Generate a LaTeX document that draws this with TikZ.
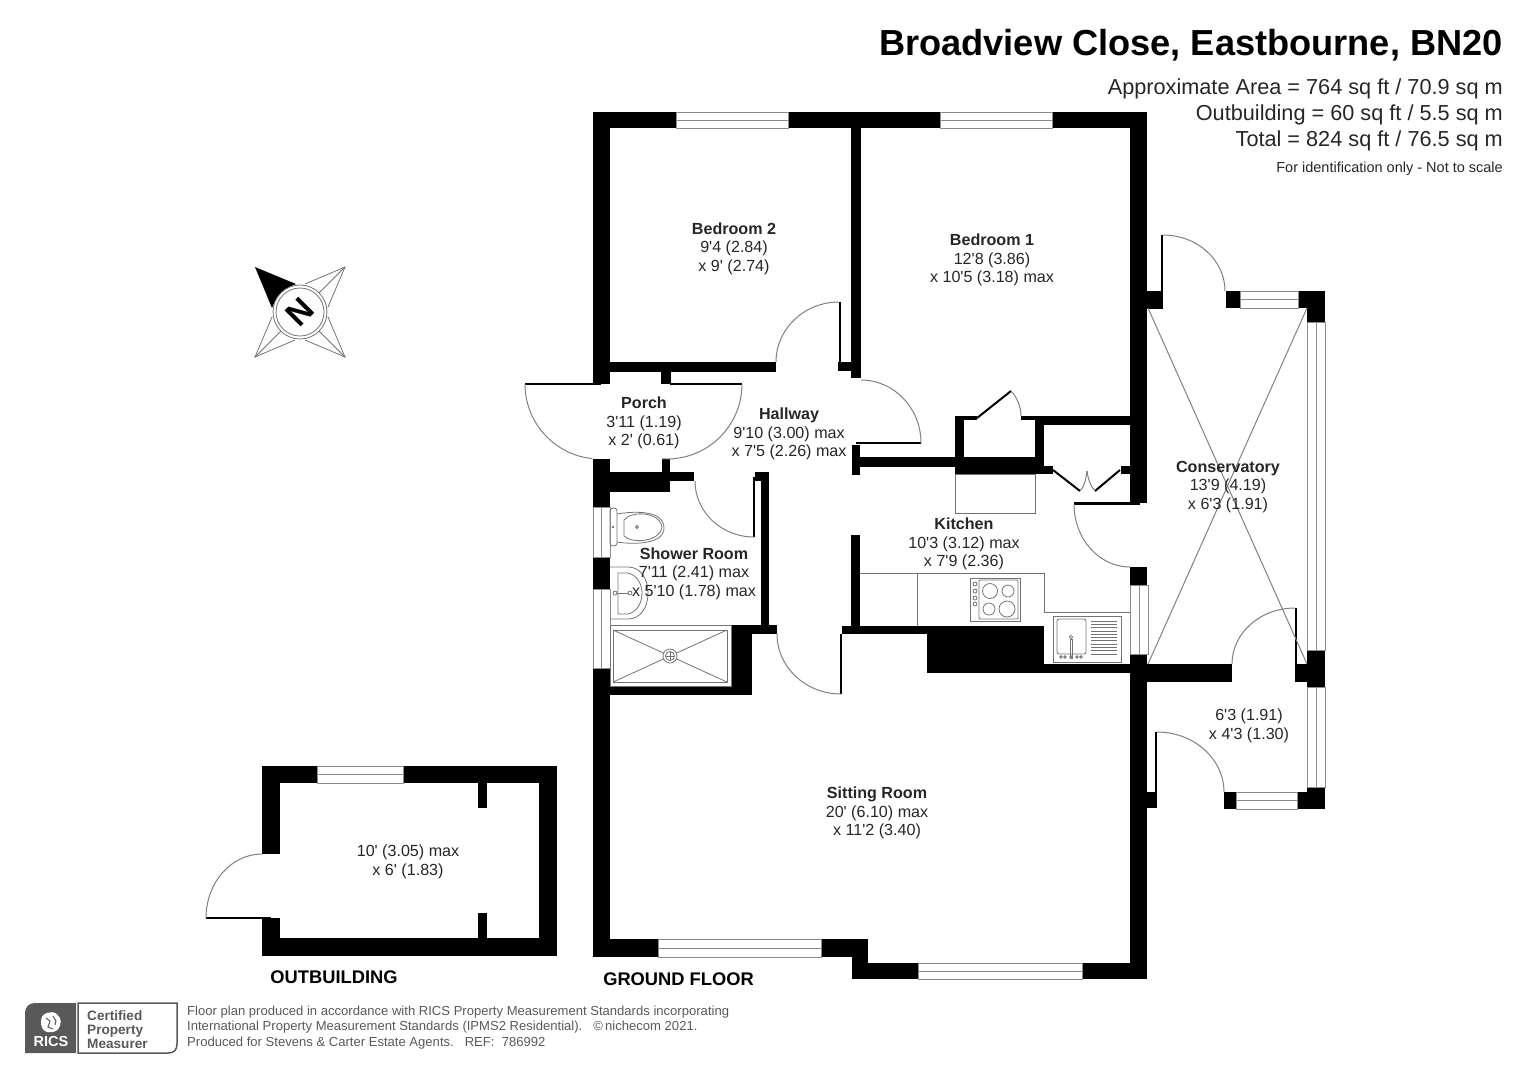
\documentclass[tikz,border=0pt]{standalone}
\usepackage{fontspec}
\setmainfont[Ligatures=TeXOff]{Liberation Sans}
\usepackage{tikz}
\usetikzlibrary{calc}
\tikzset{
	wall/.style={fill=black},
	glaze/.style={draw=black!45, fill=white, line width=1pt},
	swing/.style={draw=black!50, line width=1pt},
	fixture/.style={draw=black!55, line width=0.8pt},
	roomlabel/.style={align=center, inner sep=0pt, text=black!85, font=\fontsize{16.1}{18.6}\selectfont},
	floorlabel/.style={inner sep=0pt, font=\fontsize{18.3}{20}\selectfont\bfseries},
	arealabel/.style={anchor=east, inner sep=0pt, text=black!85, font=\fontsize{21.7}{24}\selectfont},
	smalllabel/.style={anchor=west, inner sep=0pt, text=black!65, font=\fontsize{13.07}{15}\selectfont}
}
\begin{document}
\begin{tikzpicture}[x=1pt, y=-1pt]
	\useasboundingbox (0,0) rectangle (1528,1080);
	% walls
	\foreach \xa/\ya/\xb/\yb in {593/112/1147/128, 593/112/610/384, 610/362/776/372, 661/371/671/384,
		851/128/861/378, 838/362/861/371, 593/459/610/957, 662/459/670/472, 610/472/670/492, 670/472/694/481,
		761/472/769/634, 755/472/769/481, 731/625/777/634, 731/625/752/695, 593/686/752/695,
		852/445/860/475, 860/457/955/467, 955/457/1044/474, 1044/466/1053/474, 955/416/964/457, 955/416/977/420,
		1021/416/1035/420, 1035/416/1130/425, 1035/416/1044/466, 1121/466/1130/474,
		1130/112/1147/503, 1130/567/1147/979, 851/535/860/627, 842/626/927/634, 927/626/1044/673,
		1044/664/1130/673, 1130/664/1232/682, 593/939/868/957, 852/939/868/979, 852/963/1147/979,
		1147/291/1163/309, 1226/291/1240/308, 1298/291/1325/308, 1307/308/1325/322, 1307/650/1325/687,
		1295/664/1307/682, 1224/792/1236/809, 1297/792/1325/809, 1307/787/1325/792, 1147/792/1157/808,
		262/766/557/783, 262/766/280/854, 262/918/280/956, 262/938/557/956, 539/766/557/956,
		478/783/487/808, 478/913/487/938}
		\fill[wall] (\xa,\ya) rectangle (\xb,\yb);
	% door leaves
	\foreach \xa/\ya/\xb/\yb in {525/383/601/385, 670/383/742/385, 753/477/755/537, 839/302/841/362, 856/442/921/444,
		1074/502/1140/505, 1161/235/1163/300, 1295/608/1297/664, 1155/732/1157/792, 840/634/842/694, 206/917/271/919}
		\fill[wall] (\xa,\ya) rectangle (\xb,\yb);
	\draw[black, line width=2pt] (977,418)--(1011,391);
	\draw[black, line width=2pt] (1053,470)--(1080,491);
	\draw[black, line width=2pt] (1120,470)--(1095,491);
	% door swings
	\draw[swing] (525,384) arc[start angle=180, end angle=96, radius=75];
	\draw[swing] (742,384) arc[start angle=0, end angle=94, radius=75];
	\draw[swing] (695,481) arc[start angle=180, end angle=90, x radius=59, y radius=56];
	\draw[swing] (776,362) arc[start angle=180, end angle=270, x radius=63, y radius=60];
	\draw[swing] (861,380) arc[start angle=270, end angle=360, x radius=60, y radius=63];
	\draw[swing] (1074,504) arc[start angle=180, end angle=90, x radius=56, y radius=63];
	\draw[swing] (1163,235) arc[start angle=270, end angle=360, x radius=62, y radius=56];
	\draw[swing] (1295,608) arc[start angle=270, end angle=180, x radius=63, y radius=56];
	\draw[swing] (1157,732) arc[start angle=270, end angle=360, x radius=67, y radius=60];
	\draw[swing] (777,634) arc[start angle=180, end angle=90, x radius=64, y radius=60];
	\draw[swing] (206,918) arc[start angle=180, end angle=270, x radius=56, y radius=64];
	\draw[swing] (1011,391).. controls (1017,397) and (1021,407)..(1021,416);
	\draw[swing] (1080,491).. controls (1085,486) and (1086,478)..(1087,471);
	\draw[swing] (1095,491).. controls (1090,486) and (1088,478)..(1087,471);
	% windows
	\foreach \xa/\xb/\ya/\yb in {676/788/112/128, 940/1052/112/128, 658/821/939/957, 918/1082/963/979,
		1240/1298/291/308, 1236/1297/792/809, 317/403/766/783}{
		\draw[glaze] (\xa,\ya) rectangle (\xb,\yb);
		\draw[glaze] (\xa,{(\ya+\yb)/2})--(\xb,{(\ya+\yb)/2});
	}
	\foreach \xa/\xb/\ya/\yb in {593/610/507/557, 593/610/589/668, 1130/1148/585/654, 1307/1325/322/650, 1307/1325/687/787}{
		\draw[glaze] (\xa,\ya) rectangle (\xb,\yb);
		\draw[glaze] ({(\xa+\xb)/2},\ya)--({(\xa+\xb)/2},\yb);
	}
	% conservatory cross
	\draw[swing] (1148,308)--(1307,664);
	\draw[swing] (1307,308)--(1148,664);
	% kitchen units
	\draw[fixture] (955,474) rectangle (1035,513);
	\draw[fixture] (860,573)--(1044,573)--(1044,612)--(1130,612);
	\draw[fixture] (917,573)--(917,626);
	\draw[fixture] (970,578) rectangle (1020,621);
	\draw[fixture, rounded corners=1pt] (979,580) rectangle (1018,619);
	\foreach \cx/\cy/\cr in {990/591/7.5, 1008/591/6, 989/609/6, 1007/609/8, 975/584/2, 975/591/2, 975/598/2, 975/604/2}
		\draw[fixture] (\cx,\cy) circle (\cr);
	\draw[fixture] (1053,616) rectangle (1121,662);
	\draw[fixture, rounded corners=2pt] (1057,619) rectangle (1086,654);
	\foreach \ly in {0,...,10}
		\draw[fixture] (1091,621+3.3*\ly)--(1117,621+3.3*\ly);
	\draw[fixture] (1070,639) rectangle (1072,658);
	\draw[fixture] (1071,637) circle (1.6);
	\foreach \cx in {1061,1065,1071,1077,1081}
		\draw[fixture] (\cx,657) circle (1.3);
	% shower room fittings
	\draw[fixture, rounded corners=3pt] (610,508) rectangle (617,546);
	\draw[fixture] (617,514).. controls (628,512) and (664,508)..(664,528).. controls (664,546) and (628,544)..(617,542);
	\draw[fixture] (624,520).. controls (632,510) and (660,512)..(662,527).. controls (660,542) and (632,544)..(624,536)--cycle;
	\draw[fixture] (637,527) circle (1.5);
	\draw[fixture] (613,527) circle (0.7);
	\draw[fixture] (610,567)--(628,567).. controls (640,567) and (648,578)..(648,593).. controls (648,608) and (640,619)..(628,619)--(610,619);
	\draw[fixture] (618,573)--(628,573).. controls (637,575) and (642,584)..(642,593).. controls (642,603) and (637,612)..(628,614)--(618,614)--cycle;
	\draw[fixture] (615,593) circle (2);
	\draw[fixture] (630,593) circle (2);
	\draw[fixture] (617,593)--(628,593);
	\draw[fixture, fill=white] (610,625) rectangle (731,686);
	\draw[fixture] (613,630) rectangle (727,682);
	\draw[fixture] (613,630)--(727,682);
	\draw[fixture] (613,682)--(727,630);
	\draw[fixture, fill=white] (670,656) circle (7);
	\draw[fixture] (670,656) circle (4.5);
	\draw[fixture] (665.5,656)--(674.5,656);
	\draw[fixture] (670,651.5)--(670,660.5);
	% compass
	\foreach \sx/\sy in {1/-1, 1/1, -1/1}{
		\draw[fixture] ({300+5*\sx},{312+28*\sy})--({300+45*\sx},{312+45*\sy})--({300+28*\sx},{312+5*\sy});
		\draw[fixture] ({300+19*\sx},{312+19*\sy})--({300+45*\sx},{312+45*\sy});
	}
	\fill[wall] (255,267)--(296,284).. controls (285,288) and (276,296)..(272,308)--cycle;
	\draw[fixture, fill=white] (300,312) circle (27);
	\draw[fixture] (300,312) circle (24);
	\node (north) at (300,312)[rotate=45, inner sep=0pt, font=\fontsize{33}{33}\selectfont\bfseries]{N};
	% room labels
	\node (bedroomtwo) at (734,248.5)[roomlabel]{\textbf{Bedroom 2}\\9'4 (2.84)\\x 9' (2.74)};
	\node (bedroomone) at (992,260)[roomlabel]{\textbf{Bedroom 1}\\12'8 (3.86)\\x 10'5 (3.18) max};
	\node (porch) at (644,423)[roomlabel]{\textbf{Porch}\\3'11 (1.19)\\x 2' (0.61)};
	\node (hallway) at (789,434)[roomlabel]{\textbf{Hallway}\\9'10 (3.00) max\\x 7'5 (2.26) max};
	\node (showerroom) at (694,573.5)[roomlabel]{\textbf{Shower Room}\\7'11 (2.41) max\\x 5'10 (1.78) max};
	\node (kitchen) at (964,544)[roomlabel]{\textbf{Kitchen}\\10'3 (3.12) max\\x 7'9 (2.36)};
	\node (conservatory) at (1228,487)[roomlabel]{\textbf{Conservatory}\\13'9 (4.19)\\x 6'3 (1.91)};
	\node (lobby) at (1249,726)[roomlabel]{6'3 (1.91)\\x 4'3 (1.30)};
	\node (sittingroom) at (877,813)[roomlabel]{\textbf{Sitting Room}\\20' (6.10) max\\x 11'2 (3.40)};
	\node (shed) at (408,862)[roomlabel]{10' (3.05) max\\x 6' (1.83)};
	\node (outbuilding) at (334,977)[floorlabel]{OUTBUILDING};
	\node (groundfloor) at (678.5,979)[floorlabel]{GROUND FLOOR};
	% title block
	\node (title) at (1503,45)[anchor=east, inner sep=0pt, font=\fontsize{36.2}{40}\selectfont\bfseries]{Broadview Close, Eastbourne, BN20};
	\node (area) at (1503,89)[arealabel]{Approximate Area = 764 sq ft / 70.9 sq m};
	\node (outarea) at (1503,115)[arealabel]{Outbuilding = 60 sq ft / 5.5 sq m};
	\node (total) at (1503,141)[arealabel]{Total = 824 sq ft / 76.5 sq m};
	\node (noscale) at (1503,169)[anchor=east, inner sep=0pt, text=black!85, font=\fontsize{14.5}{16}\selectfont]{For identification only - Not to scale};
	% footer
	\node (footone) at (187,1012)[smalllabel]{Floor plan produced in accordance with RICS Property Measurement Standards incorporating};
	\node (foottwo) at (187,1027)[smalllabel]{International Property Measurement Standards (IPMS2 Residential).\hspace{11pt}©\,nichecom 2021.};
	\node (footthree) at (187,1043)[smalllabel]{Produced for Stevens \& Carter Estate Agents.\hspace{11pt}REF:\ \ 786992};
	% certified logo
	\fill[black!65] (25,1053)--(25,1013).. controls (25,1007) and (29,1003)..(35,1003)--(76,1003)--(76,1053)--cycle;
	\draw[black!65, line width=1.5pt] (78,1003)--(177,1003)--(177,1044).. controls (177,1050) and (174,1053)..(168,1053)--(78,1053)--cycle;
	\fill[white, rounded corners=2pt] (45,1013)--(55,1012)--(61,1019)--(60,1027)--(55,1032)--(45,1032)--(41,1026)--(41,1018)--cycle;
	\draw[black!65, line width=1pt] (46,1018)--(50,1021)--(48,1027)--(53,1029);
	\draw[black!65, line width=1pt] (53,1016)--(56,1021)--(55,1025);
	\node (ricsname) at (51,1041)[inner sep=0pt, text=white, font=\fontsize{14.5}{14.5}\selectfont\bfseries]{RICS};
	\node (certified) at (87,1030)[anchor=west, align=left, inner sep=0pt, text=black!65, font=\fontsize{13.6}{14}\selectfont\bfseries]{Certified\\Property\\Measurer};
\end{tikzpicture}
\end{document}
